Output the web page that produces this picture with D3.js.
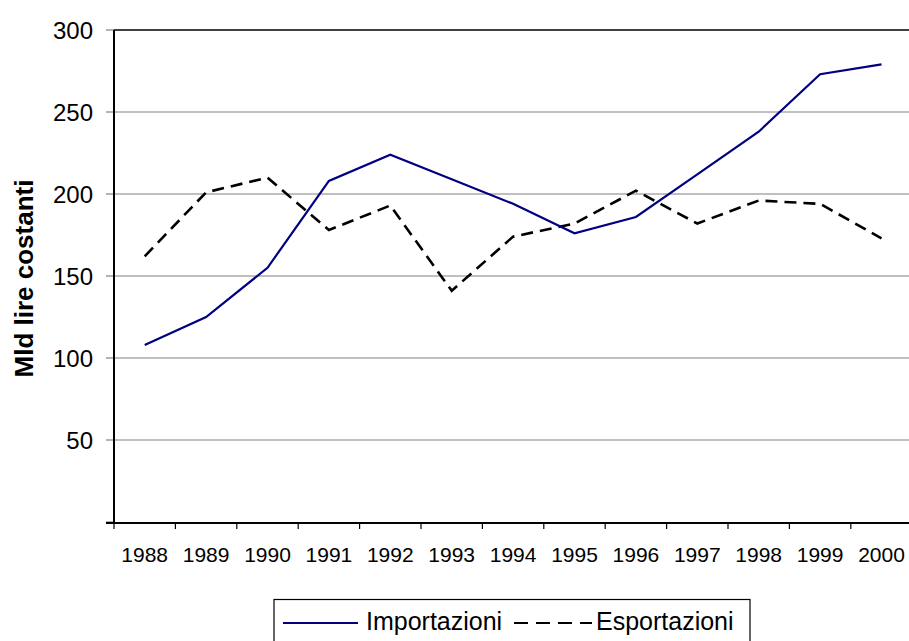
<!DOCTYPE html>
<html>
<head>
<meta charset="utf-8">
<script src="https://cdn.jsdelivr.net/npm/d3@7/dist/d3.min.js"></script>
<style>
  html, body { margin: 0; padding: 0; background: #fff; }
  svg { display: block; font-family: "Liberation Sans", Arial, sans-serif; }
</style>
</head>
<body>
<svg id="chart" width="909" height="641"></svg>
<script>
// Trade flows in constant billions of lire
const years = ["1988","1989","1990","1991","1992","1993","1994","1995","1996","1997","1998","1999","2000"];
const importazioni = [108, 125, 155, 208, 224, 209, 194, 176, 186, 212, 238, 273, 279];
const esportazioni = [162, 201, 210, 178, 193, 141, 174, 182, 202, 182, 196, 194, 173];
const yTicks = [0, 50, 100, 150, 200, 250, 300];
const seriesNames = ["Importazioni", "Esportazioni"];

const svg = d3.select("#chart");
const plotLeft = 114, plotTop = 30, plotBottom = 522;
const band = 61.4;

const x = d3.scaleBand().domain(years).range([plotLeft, plotLeft + band * years.length]).padding(0);
const y = d3.scaleLinear().domain([0, 300]).range([plotBottom, plotTop]);
const cx = d => x(d) + x.bandwidth() / 2;

// horizontal gridlines
svg.append("g").selectAll("line")
  .data(yTicks.filter(v => v > 0))
  .join("line")
  .attr("x1", plotLeft).attr("x2", 909)
  .attr("y1", d => y(d)).attr("y2", d => y(d))
  .attr("stroke", d => d === 300 ? "#404040" : "#808080")
  .attr("stroke-width", d => d === 300 ? 2 : 1.2);

// y axis ticks and labels
svg.append("g").selectAll("line")
  .data(yTicks)
  .join("line")
  .attr("x1", plotLeft - 8).attr("x2", plotLeft)
  .attr("y1", d => y(d)).attr("y2", d => y(d))
  .attr("stroke", "#808080").attr("stroke-width", 1.2);

svg.append("g").selectAll("text")
  .data(yTicks.filter(v => v > 0))
  .join("text")
  .attr("x", 93).attr("y", d => y(d))
  .attr("dy", "0.36em")
  .attr("text-anchor", "end")
  .attr("font-size", 24)
  .attr("fill", "#000")
  .text(d => d);

// x axis ticks at category boundaries
const edges = years.map(d => x(d)).concat([x(years[years.length - 1]) + x.bandwidth()]);
svg.append("g").selectAll("line")
  .data(edges)
  .join("line")
  .attr("x1", d => d).attr("x2", d => d)
  .attr("y1", plotBottom).attr("y2", plotBottom + 7)
  .attr("stroke", "#000").attr("stroke-width", 1.2);

svg.append("g").selectAll("text")
  .data(years)
  .join("text")
  .attr("x", d => cx(d)).attr("y", 562)
  .attr("text-anchor", "middle")
  .attr("font-size", 21)
  .attr("fill", "#000")
  .text(d => d);

// axis lines
svg.append("line").attr("x1", plotLeft).attr("x2", plotLeft).attr("y1", plotTop).attr("y2", plotBottom + 1)
  .attr("stroke", "#000").attr("stroke-width", 2);
svg.append("line").attr("x1", plotLeft - 8).attr("x2", 909).attr("y1", plotBottom + 1).attr("y2", plotBottom + 1)
  .attr("stroke", "#000").attr("stroke-width", 2);

// y axis title
svg.append("text")
  .attr("transform", `translate(33,${(180 + 377) / 2}) rotate(-90)`)
  .attr("text-anchor", "middle")
  .attr("font-size", 26)
  .attr("font-weight", "bold")
  .attr("fill", "#000")
  .text("Mld lire costanti");

// series lines
const line = d3.line().x((d, i) => cx(years[i])).y(d => y(d));

svg.append("path")
  .datum(esportazioni)
  .attr("d", line)
  .attr("fill", "none")
  .attr("stroke", "#000")
  .attr("stroke-width", 2.6)
  .attr("stroke-dasharray", "12,7");

svg.append("path")
  .datum(importazioni)
  .attr("d", line)
  .attr("fill", "none")
  .attr("stroke", "#000080")
  .attr("stroke-width", 2.2);

// legend
const lg = svg.append("g");
lg.append("rect")
  .attr("x", 274).attr("y", 599.5).attr("width", 476).attr("height", 50)
  .attr("fill", "#fff").attr("stroke", "#000").attr("stroke-width", 1.2);
lg.append("line").attr("x1", 283).attr("x2", 358).attr("y1", 623).attr("y2", 623)
  .attr("stroke", "#000080").attr("stroke-width", 2.2);
lg.append("text").attr("x", 366).attr("y", 630).attr("font-size", 25).attr("fill", "#000")
  .text(seriesNames[0]);
lg.append("line").attr("x1", 514).attr("x2", 592).attr("y1", 623).attr("y2", 623)
  .attr("stroke", "#000").attr("stroke-width", 2.2).attr("stroke-dasharray", "14,8");
lg.append("text").attr("x", 596).attr("y", 630).attr("font-size", 25).attr("fill", "#000")
  .text(seriesNames[1]);
</script>
</body>
</html>
